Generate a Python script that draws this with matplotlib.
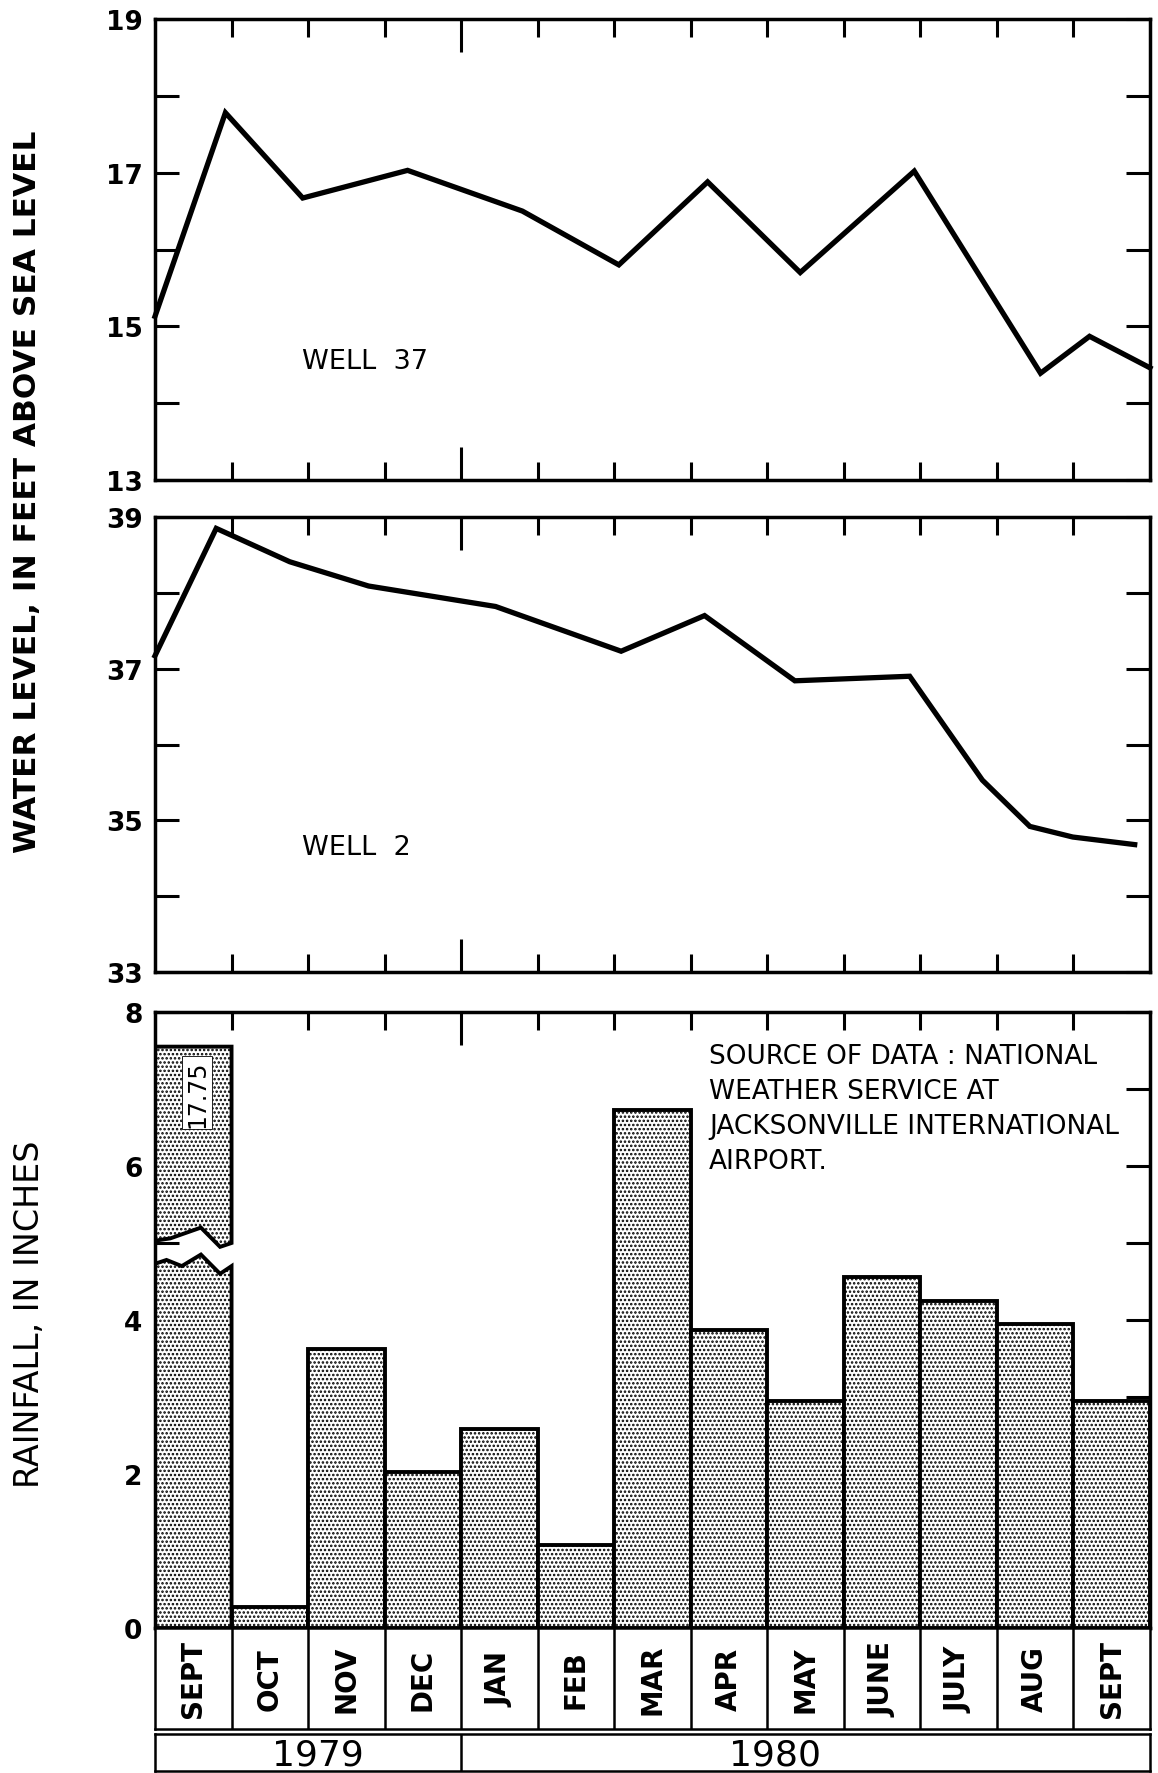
import matplotlib
matplotlib.use("Agg")
import matplotlib.pyplot as plt
from matplotlib.patches import Polygon
import numpy as np

plt.rcParams['font.family'] = ['DejaVu Sans']
plt.rcParams['hatch.linewidth'] = 1.2

# ---------------- data ----------------
months = ["SEPT", "OCT", "NOV", "DEC", "JAN", "FEB", "MAR", "APR",
          "MAY", "JUNE", "JULY", "AUG", "SEPT"]
years = ["1979", "1980"]
year_spans = [(0, 4), (4, 13)]

# time in months since 1 Sept 1979, water level in feet above sea level
well37_t = [0.0, 0.92, 1.93, 3.3, 4.8, 6.06, 7.22, 8.43, 9.92, 11.57, 12.21, 13.0]
well37_v = [15.13, 17.78, 16.67, 17.03, 16.50, 15.80, 16.88, 15.70, 17.02, 14.39, 14.87, 14.46]

well2_t = [0.0, 0.8, 1.76, 2.79, 4.45, 6.09, 7.18, 8.36, 9.86, 10.81, 11.43, 11.99, 12.8]
well2_v = [37.17, 38.85, 38.41, 38.09, 37.82, 37.23, 37.70, 36.84, 36.90, 35.53, 34.92, 34.78, 34.68]

# monthly rainfall, inches
rainfall = [17.75, 0.27, 3.62, 2.02, 2.58, 1.08, 6.73, 3.87, 2.95, 4.56, 4.25, 3.95, 2.95]

source_note = "SOURCE OF DATA : NATIONAL\nWEATHER SERVICE AT\nJACKSONVILLE INTERNATIONAL\nAIRPORT."

# ---------------- figure ----------------
W, H = 1158, 1774
fig = plt.figure(figsize=(W / 100, H / 100), dpi=100)


def rect(left, top, right, bottom):
    return [left / W, 1 - bottom / H, (right - left) / W, (bottom - top) / H]


L, R = 155, 1150
ax1 = fig.add_axes(rect(L, 20, R, 481))
ax2 = fig.add_axes(rect(L, 518, R, 973))
ax3 = fig.add_axes(rect(L, 1013, R, 1629))
axm = fig.add_axes(rect(L, 1629, R, 1730))
axy = fig.add_axes(rect(L, 1735, R, 1772))

SPW = 2.5
nmon = len(months)
bounds = [b for b in range(1, nmon) if b != 4]


def style_axis(ax, ylo, yhi, xbottom=True):
    ax.set_xlim(0, nmon)
    ax.set_ylim(ylo, yhi)
    for s in ax.spines.values():
        s.set_linewidth(SPW)
    ax.set_xticks(bounds)
    ax.set_xticks([4], minor=True)
    ax.tick_params(axis='x', which='major', direction='in', top=True, bottom=xbottom,
                   length=13, width=2.2, labelbottom=False)
    ax.tick_params(axis='x', which='minor', direction='in', top=True, bottom=xbottom,
                   length=24, width=2.2, labelbottom=False)
    ax.set_yticks(np.arange(ylo, yhi + 0.1, 2))
    ax.set_yticks(np.arange(ylo + 1, yhi, 2), minor=True)
    ax.tick_params(axis='y', which='both', direction='in', left=True, right=True,
                   length=17, width=2.2, pad=9, labelsize=19)
    for lab in ax.get_yticklabels():
        lab.set_fontweight('bold')


style_axis(ax1, 13, 19)
style_axis(ax2, 33, 39)
style_axis(ax3, 0, 8, xbottom=False)

ax1.plot(well37_t, well37_v, color='black', lw=3.8, solid_joinstyle='miter', clip_on=False)
ax2.plot(well2_t, well2_v, color='black', lw=3.8, solid_joinstyle='miter', clip_on=False)

ax1.text(1.92, 14.55, "WELL  37", fontsize=19.5, ha='left', va='center')
ax2.text(1.92, 34.65, "WELL  2", fontsize=19.5, ha='left', va='center')

# ---------------- rainfall bars ----------------
HATCH = '....'
ymax = 8
cap_top = 7.55          # drawn top of the off-scale bar
zig_low = [(0, 4.73), (0.15, 4.78), (0.35, 4.70), (0.6, 4.85), (0.85, 4.60), (1.0, 4.70)]
zig_high = [(0, 5.03), (0.2, 5.06), (0.6, 5.20), (0.85, 4.95), (1.0, 5.0)]

for i, v in enumerate(rainfall):
    if v <= ymax:
        ax3.bar(i, v, width=1, align='edge', facecolor='white', edgecolor='black',
                hatch=HATCH, linewidth=2.8, zorder=2)
    else:
        lower = [(i, 0)] + [(i + dx, y) for dx, y in zig_low] + [(i + 1, 0)]
        upper = [(i + dx, y) for dx, y in zig_high] + [(i + 1, cap_top), (i, cap_top)]
        for pts in (lower, upper):
            ax3.add_patch(Polygon(pts, closed=True, facecolor='white', edgecolor='black',
                                  hatch=HATCH, linewidth=2.8, zorder=2))
        ax3.text(i + 0.55, 6.95, f"{v:.2f}", rotation=90, ha='center', va='center',
                 fontsize=17, zorder=3,
                 bbox=dict(facecolor='white', edgecolor='black', linewidth=0.6, pad=2.0))

ax3.text(7.24, 7.6, source_note, fontsize=19, ha='left', va='top', linespacing=1.45, zorder=3)

for s in ax3.spines.values():
    s.set_zorder(4)

# ---------------- month / year rows ----------------
for ax in (axm, axy):
    ax.set_xlim(0, nmon)
    ax.set_ylim(0, 1)
    ax.set_xticks([])
    ax.set_yticks([])
    for s in ax.spines.values():
        s.set_linewidth(1.8)

for b in range(1, nmon):
    axm.axvline(b, color='black', lw=1.8)
for i, m in enumerate(months):
    axm.text(i + 0.5, 0.5, m, rotation=90, ha='center', va='center',
             fontsize=20, fontweight='bold')

axy.axvline(4, color='black', lw=1.8)
year_text_x = [2.13, 8.1]
for (a, b), yr, xt in zip(year_spans, years, year_text_x):
    axy.text(xt, 0.45, yr, ha='center', va='center', fontsize=26)

# ---------------- axis titles ----------------
fig.text(28 / W, 1 - 492 / H, "WATER LEVEL, IN FEET ABOVE SEA LEVEL", rotation=90,
         ha='center', va='center', fontsize=22.5, fontweight='bold',
         family=['Liberation Sans Narrow', 'DejaVu Sans'])
fig.text(30 / W, 1 - 1314 / H, "RAINFALL, IN INCHES", rotation=90,
         ha='center', va='center', fontsize=24)

fig.savefig("out.png", dpi=100)
